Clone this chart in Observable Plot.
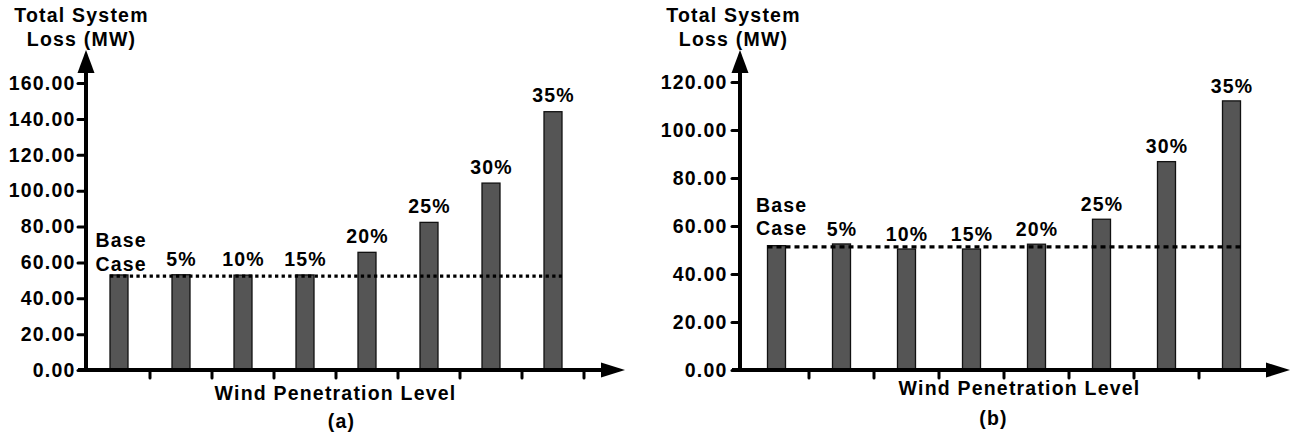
<!DOCTYPE html>
<html>
<head>
<meta charset="utf-8">
<script src="https://cdn.jsdelivr.net/npm/d3@7"></script>
<script src="https://cdn.jsdelivr.net/npm/@observablehq/plot@0.6"></script>
<style>
  html, body { margin: 0; padding: 0; background: #fff; }
  #wrap { display: flex; width: 1294px; height: 436px; }
</style>
</head>
<body>
<div id="wrap"></div>
<script>
// ---- data ----
const categories = ["Base Case", "5%", "10%", "15%", "20%", "25%", "30%", "35%"];
const lossA = [53.0, 53.1, 52.9, 53.0, 65.6, 82.3, 104.2, 144.0];
const lossB = [51.8, 52.5, 50.4, 50.4, 52.4, 62.8, 86.8, 112.1];
const baseLineA = 52.6;
const baseLineB = 51.5;
const yTicksA = [0, 20, 40, 60, 80, 100, 120, 140, 160];
const yTicksB = [0, 20, 40, 60, 80, 100, 120];
const yTitle = "Total System\nLoss (MW)";
const xTitle = "Wind Penetration Level";
const panelLabels = ["(a)", "(b)"];

const FONT = "'Liberation Sans', Arial, Helvetica, sans-serif";

function axesMark(nTicks) {
  return (index, scales, values, dim) => {
    const g = d3.create("svg:g");
    const x0 = dim.marginLeft;
    const y0 = scales.y(0);
    const top = dim.marginTop;
    const right = dim.width - dim.marginRight;
    // x ticks at band boundaries
    const step = scales.x.step();
    for (let i = 0; i < nTicks; i++) {
      const xt = scales.x(categories[i]) + step;
      g.append("line").attr("x1", xt).attr("x2", xt).attr("y1", y0).attr("y2", y0 + 8)
        .attr("stroke", "black").attr("stroke-width", 3).attr("stroke-linecap", "round");
    }
    g.append("line").attr("x1", x0).attr("x2", x0).attr("y1", y0 + 2).attr("y2", top + 18)
      .attr("stroke", "black").attr("stroke-width", 4);
    g.append("line").attr("x1", x0 - 8).attr("x2", right - 18).attr("y1", y0).attr("y2", y0)
      .attr("stroke", "black").attr("stroke-width", 4);
    g.append("path").attr("d", `M${x0},${top}L${x0 - 8.5},${top + 23}L${x0 + 8.5},${top + 23}Z`).attr("fill", "black");
    g.append("path").attr("d", `M${right},${y0}L${right - 24},${y0 - 7.5}L${right - 24},${y0 + 7.5}Z`).attr("fill", "black");
    return g.node();
  };
}

function panel(cfg) {
  const data = categories.map((c, i) => ({cat: c, v: cfg.values[i]}));
  const labels = data.slice(1);
  const base = data.slice(0, 1);
  const fl = cfg.marginLeft, ft = 50, fb = 370;
  return Plot.plot({
    width: 647,
    height: 436,
    marginLeft: cfg.marginLeft,
    marginRight: cfg.marginRight,
    marginTop: ft,
    marginBottom: 436 - fb,
    style: {fontFamily: FONT, fontSize: "19.5px", fontWeight: "bold", letterSpacing: "1.2px", background: "#fff", color: "#000", overflow: "visible"},
    x: {domain: categories, range: cfg.xRange, padding: 0, axis: null},
    y: {domain: [0, cfg.yMax], axis: null},
    marks: [
      Plot.barY(data, {x: "cat", y: "v", fill: "#555555", stroke: "#111", strokeWidth: 1.3, insetLeft: cfg.inset, insetRight: cfg.inset}),
      Plot.ruleY([cfg.baseLine], {y: d => d, x1: () => categories[0], x2: () => categories[categories.length - 1], insetLeft: cfg.inset, insetRight: cfg.inset, stroke: "black", strokeWidth: 3.2, strokeDasharray: cfg.dash}),
      Plot.axisY({ticks: cfg.yTicks, tickFormat: d3.format(".2f"), tickSize: 8, tickPadding: cfg.tickPadding, strokeWidth: 3, strokeLinecap: "round", label: null, fontSize: 19.5, fontWeight: "bold"}),
      axesMark(cfg.nTicks),
      Plot.text(labels, {x: "cat", y: "v", text: "cat", dy: cfg.labelDy, lineAnchor: "middle", fontSize: 19.5, fontWeight: "bold"}),
      Plot.text(base, {x: "cat", y: "v", text: () => "Base\nCase", textAnchor: "start", dx: cfg.baseDx, dy: cfg.baseDy, lineAnchor: "middle", lineHeight: 1.2, fontSize: 19.5, fontWeight: "bold"}),
      Plot.text([yTitle], {frameAnchor: "top-left", textAnchor: "middle", dx: cfg.yTitle[0] - fl, dy: cfg.yTitle[1] - ft, lineAnchor: "middle", lineHeight: 1.23, fontSize: 19.5, fontWeight: "bold"}),
      Plot.text([xTitle], {frameAnchor: "bottom-left", textAnchor: "middle", dx: cfg.xTitle[0] - fl, dy: cfg.xTitle[1] - fb, lineAnchor: "middle", fontSize: 19.5, fontWeight: "bold"}),
      Plot.text([cfg.tag], {frameAnchor: "bottom-left", textAnchor: "middle", dx: cfg.tagPos[0] - fl, dy: cfg.tagPos[1] - fb, lineAnchor: "middle", fontSize: 19.5, fontWeight: "bold"})
    ]
  });
}

const wrap = document.getElementById("wrap");
wrap.append(panel({
  values: lossA, baseLine: baseLineA, yTicks: yTicksA, yMax: 178.4,
  marginLeft: 86, marginRight: 22, xRange: [86, 585], inset: 22,
  dash: "3.3,3.3", tickPadding: 3, nTicks: 8, labelDy: -16,
  baseDx: -24, baseDy: -24,
  yTitle: [81, 26], xTitle: [335, 393], tag: panelLabels[0], tagPos: [341, 421]
}));
wrap.append(panel({
  values: lossB, baseLine: baseLineB, yTicks: yTicksB, yMax: 133.3,
  marginLeft: 93, marginRight: 4, xRange: [93, 620], inset: 23.5,
  dash: "5,4", tickPadding: 5, nTicks: 7, labelDy: -15,
  baseDx: -21, baseDy: -30,
  yTitle: [86, 26], xTitle: [372, 388], tag: panelLabels[1], tagPos: [346, 418]
}));
</script>
</body>
</html>
